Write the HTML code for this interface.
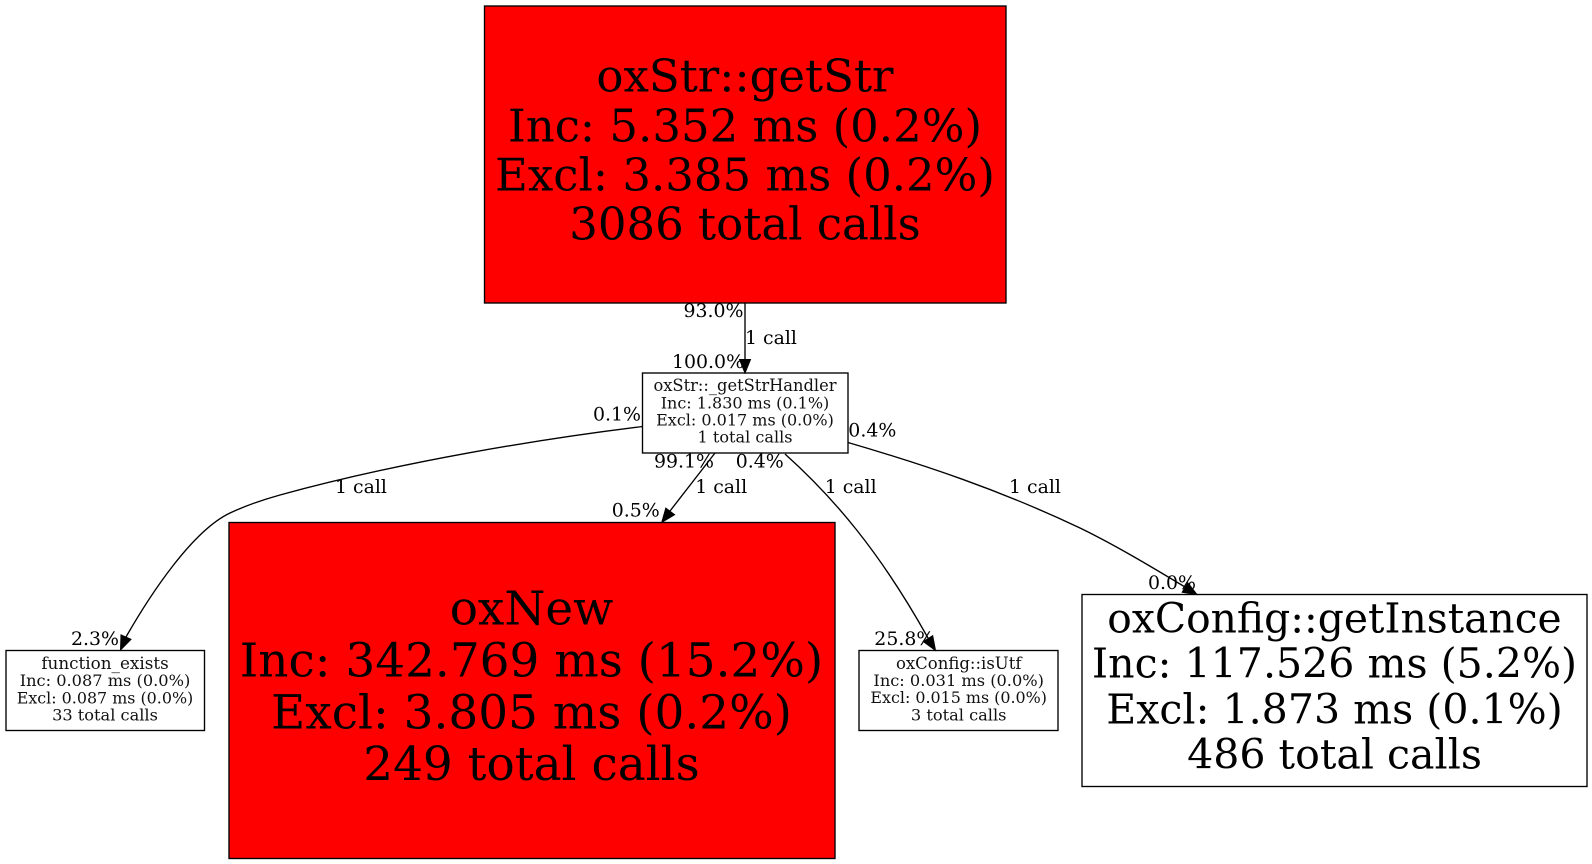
<!DOCTYPE html>
<html><head><meta charset="utf-8"><style>
html,body{margin:0;padding:0;background:#fff;width:1592px;height:864px;overflow:hidden}
svg{display:block;font-family:"DejaVu Serif",serif}
rect{stroke:#000;stroke-width:1.35}
path{fill:none;stroke:#000;stroke-width:1.35}
polygon{fill:#000;stroke:#000;stroke-width:1}
.c{text-anchor:middle}
.n{font-size:15.9px;fill:#111}
.l{font-size:18.9px}
.e{font-size:45px}
.x{font-size:46.9px}
.g{font-size:41.1px}
</style></head><body>
<svg width="1592" height="864" viewBox="0 0 1592 864" xmlns="http://www.w3.org/2000/svg">
<rect x="484.5" y="6" width="521.5" height="297" fill="#f00"/>
<g class="c e">
<text x="745" y="91.7">oxStr::getStr</text>
<text x="745" y="141.7">Inc: 5.352 ms (0.2%)</text>
<text x="745" y="190.7">Excl: 3.385 ms (0.2%)</text>
<text x="745" y="239.3">3086 total calls</text>
</g>
<rect x="642.5" y="373" width="205.5" height="80" fill="#fff"/>
<g class="c n">
<text x="745" y="391" style="font-size:16.3px">oxStr::_getStrHandler</text>
<text x="745" y="408.3" style="font-size:16px">Inc: 1.830 ms (0.1%)</text>
<text x="745" y="425.7" style="font-size:16px">Excl: 0.017 ms (0.0%)</text>
<text x="745" y="442.7" style="font-size:16.1px">1 total calls</text>
</g>
<rect x="6" y="650.5" width="198.5" height="80" fill="#fff"/>
<g class="c n">
<text x="105" y="669" style="font-size:16.8px">function_exists</text>
<text x="105" y="686" style="font-size:16.2px">Inc: 0.087 ms (0.0%)</text>
<text x="105" y="703.3">Excl: 0.087 ms (0.0%)</text>
<text x="105" y="720.7" style="font-size:16.2px">33 total calls</text>
</g>
<rect x="229" y="522.5" width="606" height="336" fill="#f00"/>
<g class="c x">
<text x="531.5" y="624.3">oxNew</text>
<text x="531.5" y="676.7">Inc: 342.769 ms (15.2%)</text>
<text x="531.5" y="728.3">Excl: 3.805 ms (0.2%)</text>
<text x="531.5" y="780">249 total calls</text>
</g>
<rect x="859" y="650.5" width="199" height="80" fill="#fff"/>
<g class="c n">
<text x="958.7" y="669" style="font-size:16.5px">oxConfig::isUtf</text>
<text x="958.7" y="686" style="font-size:16.2px">Inc: 0.031 ms (0.0%)</text>
<text x="958.7" y="703">Excl: 0.015 ms (0.0%)</text>
<text x="958.7" y="720.3" style="font-size:16.2px">3 total calls</text>
</g>
<rect x="1082" y="594.5" width="505" height="192" fill="#fff"/>
<g class="c g">
<text x="1334.5" y="632.7" style="font-size:40.8px">oxConfig::getInstance</text>
<text x="1334.5" y="677.3">Inc: 117.526 ms (5.2%)</text>
<text x="1334.5" y="723.3">Excl: 1.873 ms (0.1%)</text>
<text x="1334.5" y="768.3">486 total calls</text>
</g>
<path d="M745 303V360"/>
<polygon points="745,373 750.5,359.5 739.5,359.5"/>
<path d="M642.5 426.5C540 439 400 462 280 495C262 500 245 506 230 513C192 531 150 595 126 637"/>
<polygon points="120.5,650 131,639.3 121,634.9"/>
<path d="M715 453L670 511"/>
<polygon points="661.7,522.5 674.6,514.7 665.8,508.1"/>
<path d="M785 454C834 498 880 552 928 638"/>
<polygon points="935.5,650.5 932.7,635.7 923.3,641.5"/>
<path d="M848 442.5C925 465 1000 490 1080 528C1115 545 1150 566 1185 587"/>
<polygon points="1197,594.5 1187.8,582.8 1182.2,592.2"/>
<g class="l">
<text x="683.5" y="317">93.0%</text>
<text x="745" y="344">1 call</text>
<text x="672" y="368">100.0%</text>
<text x="593" y="420.7">0.1%</text>
<text x="848.3" y="436.7">0.4%</text>
<text x="654" y="467.7">99.1%</text>
<text x="735.7" y="467.7">0.4%</text>
<text x="695.2" y="493">1 call</text>
<text x="824.7" y="493">1 call</text>
<text x="335" y="493">1 call</text>
<text x="1009" y="493">1 call</text>
<text x="611.7" y="516.7">0.5%</text>
<text x="71" y="645">2.3%</text>
<text x="874.3" y="645">25.8%</text>
<text x="1148" y="589">0.0%</text>
</g>
</svg>
</body></html>
